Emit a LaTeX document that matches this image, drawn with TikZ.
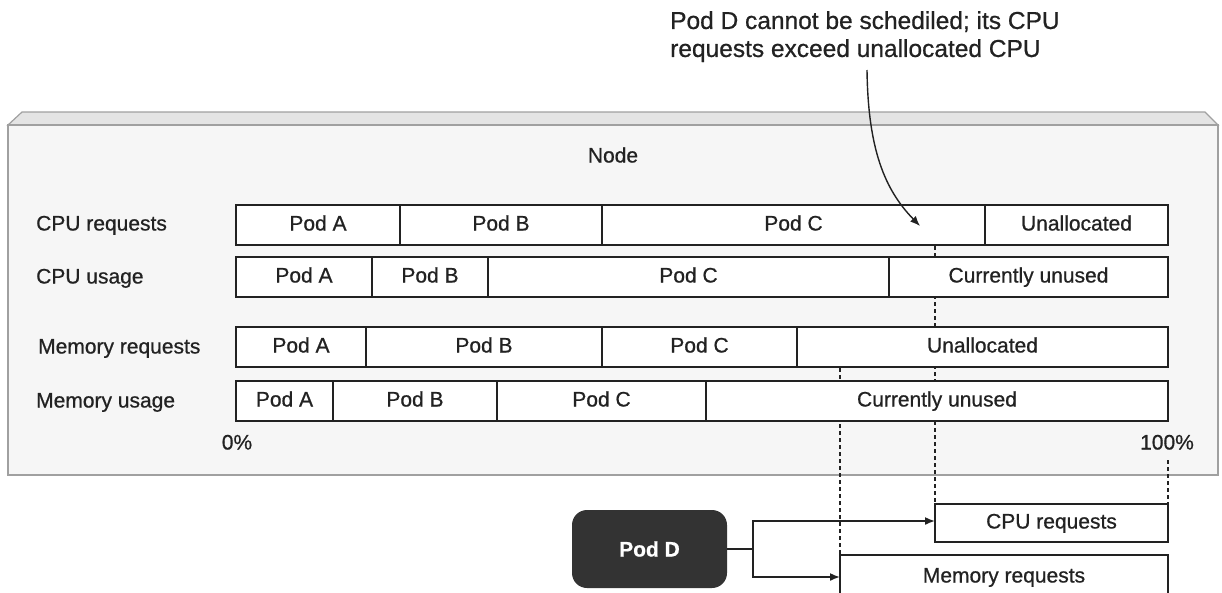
\documentclass[tikz,border=0pt]{standalone}
\usepackage{fontspec}
\setmainfont{Liberation Sans}[RawFeature={embolden=0.7}]
\usetikzlibrary{arrows.meta,positioning,calc}
\definecolor{ink}{HTML}{222222}
\definecolor{panel}{HTML}{F6F6F6}
\definecolor{bevel}{HTML}{E4E4E4}
\definecolor{rim}{HTML}{A0A0A0}
\definecolor{podfill}{HTML}{333333}
\tikzset{
  lbl/.style={font=\fontsize{21pt}{25pt}\selectfont, text=ink, inner sep=0pt,
    text height=15.5pt, text depth=4.5pt},
  seg/.style={draw=ink, line width=1.6pt, fill=white, inner sep=0pt, outer sep=0pt,
    minimum height=40pt, anchor=north west, font=\fontsize{21pt}{25pt}\selectfont, text=ink,
    text height=15.5pt, text depth=4.5pt},
  guide/.style={draw=ink, line width=1.4pt, dash pattern=on 4pt off 3pt},
  conn/.style={draw=ink, line width=1.6pt, -{Latex[length=10pt,width=8pt]}},
}
\begin{document}
\begin{tikzpicture}[x=1pt,y=-1pt]
\useasboundingbox (0,0) rectangle (1222,592);

% node panel with bevelled top
\fill[bevel, draw=rim, line width=1.2pt] (8,125) -- (22,112) -- (1205,112) -- (1218,125) -- cycle;
\draw[rim, fill=panel, line width=1.2pt] (8,125) rectangle (1218,475);
\node[lbl] (nodetitle) at (613,157) {Node};

% row labels
\node[lbl, anchor=west] (lcr) at (36,225) {CPU requests};
\node[lbl, anchor=west] (lcu) at (36,278) {CPU usage};
\node[lbl, anchor=west] (lmr) at (38,348) {Memory requests};
\node[lbl, anchor=west] (lmu) at (36,402) {Memory usage};

% pod D boxes below the panel
\node[seg, minimum width=233pt, minimum height=38pt] (cpubox) at (935,504) {CPU requests};
\node[seg, minimum width=328pt, minimum height=44pt] (membox) at (840,555) {Memory requests};

% scale labels
\node[lbl] (p0) at (237,444) {0\%};
\node[lbl] (p100) at (1167,444) {100\%};

% guide lines (drawn under the bars)
\coordinate (gcpu) at (935,246);
\coordinate (gmem) at (840,368);
\draw[guide] (gcpu) -- (cpubox.north west);
\draw[guide] (gmem) -- (membox.north west);
\draw[guide] ([yshift=-6pt]p100.south -| cpubox.north east) -- (cpubox.north east);

% CPU requests
\node[seg, minimum width=164pt] (cra) at (236,205) {Pod A};
\node[seg, minimum width=202pt] (crb) at (400,205) {Pod B};
\node[seg, minimum width=383pt] (crc) at (602,205) {Pod C};
\node[seg, minimum width=183pt] (crd) at (985,205) {Unallocated};

% CPU usage
\node[seg, minimum width=136pt] (cua) at (236,257) {Pod A};
\node[seg, minimum width=116pt] (cub) at (372,257) {Pod B};
\node[seg, minimum width=401pt] (cuc) at (488,257) {Pod C};
\node[seg, minimum width=279pt] (cud) at (889,257) {Currently unused};

% Memory requests
\node[seg, minimum width=130pt] (mra) at (236,327) {Pod A};
\node[seg, minimum width=236pt] (mrb) at (366,327) {Pod B};
\node[seg, minimum width=195pt] (mrc) at (602,327) {Pod C};
\node[seg, minimum width=371pt] (mrd) at (797,327) {Unallocated};

% Memory usage
\node[seg, minimum width=97pt]  (mua) at (236,381) {Pod A};
\node[seg, minimum width=164pt] (mub) at (333,381) {Pod B};
\node[seg, minimum width=209pt] (muc) at (497,381) {Pod C};
\node[seg, minimum width=462pt] (mud) at (706,381) {Currently unused};

% annotation
\node[anchor=north west, align=left, inner sep=0pt, text=ink,
      font=\fontsize{24.5pt}{28pt}\selectfont] (note) at (670,11)
  {Pod D cannot be schediled; its CPU\\requests exceed unallocated CPU};
\coordinate (tip) at (920,226);
\draw[conn, line width=1.4pt] (867,70) .. controls (868,150) and (885,190) .. (tip);

% pod D
\node[fill=podfill, rounded corners=15pt, minimum width=155pt, minimum height=78pt,
      text=white, font=\bfseries\fontsize{21pt}{25pt}\selectfont] (podd) at (649.5,549) {Pod D};
\coordinate (junc) at (753,549);
\draw[draw=ink, line width=1.6pt] (podd.east) -- (junc);
\draw[conn] (junc) |- ([yshift=2pt]cpubox.west);
\draw[conn] (junc) |- (membox.west);
\end{tikzpicture}
\end{document}
